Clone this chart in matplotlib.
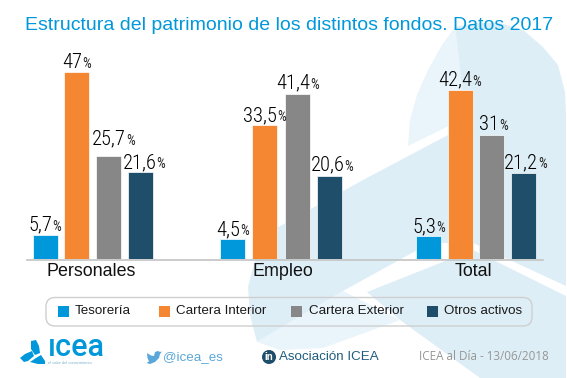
import matplotlib
matplotlib.use("Agg")
import matplotlib.pyplot as plt
from matplotlib.patches import Polygon, FancyBboxPatch, Circle, Rectangle

sans = ['Liberation Sans', 'DejaVu Sans']
cond = ['Roboto Condensed', 'Liberation Sans']
plt.rcParams['font.family'] = sans

groups = ['Personales', 'Empleo', 'Total']
series = ['Tesorería', 'Cartera Interior', 'Cartera Exterior', 'Otros activos']
colors = ['#0098DA', '#F58632', '#878787', '#1F4E6B']
tesoreria = [5.7, 4.5, 5.3]
interior = [47, 33.5, 42.4]
exterior = [25.7, 41.4, 31]
otros = [21.6, 20.6, 21.2]
labels_teso = ['5,7', '4,5', '5,3']
labels_int = ['47', '33,5', '42,4']
labels_ext = ['25,7', '41,4', '31']
labels_otros = ['21,6', '20,6', '21,2']
all_values = [tesoreria, interior, exterior, otros]
all_labels = [labels_teso, labels_int, labels_ext, labels_otros]
title = 'Estructura del patrimonio de los distintos fondos. Datos 2017'

W, H = 567, 378
fig = plt.figure(figsize=(W/100, H/100), dpi=100, facecolor='white')
bg = fig.add_axes([0, 0, 1, 1], zorder=0)
bg.set_xlim(0, W); bg.set_ylim(H, 0); bg.axis('off')

L1, L2 = '#E9F5FB', '#DEEEF6'
# background emblem
bg.add_patch(Polygon([(408,146),(410,120),(417,95),(428,70),(442,45),(455,27),(459,60),(463,95),(465,118)], fc=L1, ec='none'))
bg.add_patch(Polygon([(455,27),(475,23),(500,23),(523,30),(543,47),(558,65),(565,92),(566,115),(566,286),(473,243),(430,243),
                      (343,291),(257,342),(250,315),(248,287),(256,256),(273,230),(363,180),(448,135),(465,118),(463,95),(459,60)], fc=L2, ec='none'))
bg.add_patch(Polygon([(367,292),(473,250),(566,296),(566,378),(480,378),(400,320)], fc=L2, ec='none'))
bg.add_patch(Polygon([(257,342),(343,291),(400,320),(323,348),(280,350)], fc=L1, ec='none'))

scale = 3.95
floor = -0.45
ax = fig.add_axes([0, (H-259)/H, 1, 210/H], zorder=1)
ax.set_xlim(0, W); ax.set_ylim(floor, floor + 210/scale)
ax.axis('off'); ax.patch.set_alpha(0)
group_x = [45.0, 232.3, 428.3]
steps = [31.7, 32.5, 31.7]
bw = 25
# hand placement of labels, in pixels (dx, dy above the bar)
nudge = {'25,7': (5, 11), '21,6': (4, 4), '20,6': (2, 5), '21,2': (2, 5), '31': (2, 5), '41,4': (0, 5)}
renderer = fig.canvas.get_renderer()
for i, (vals, labs) in enumerate(zip(all_values, all_labels)):
    xs = [g + i*s for g, s in zip(group_x, steps)]
    ax.bar(xs, [v - floor for v in vals], bottom=floor, width=bw, color=colors[i], edgecolor='#FFFFFF', linewidth=0.5)
    for x, v, lab in zip(xs, vals, labs):
        dx, dy = nudge.get(lab, (0, 4))
        num = ax.annotate(lab, (x, v), xytext=(0, dy), textcoords='offset pixels', ha='left', va='baseline',
                          fontsize=14.8, family=cond, fontweight=300, color='#000000')
        pct = ax.annotate('%', (x, v), xytext=(0, dy), textcoords='offset pixels', ha='left', va='baseline',
                          fontsize=10, family=cond, fontweight=400, color='#222222')
        nw = num.get_window_extent(renderer).width
        pw = pct.get_window_extent(renderer).width
        left = dx - (nw + pw) / 2
        num.xyann = (left, dy)
        pct.xyann = (left + nw, dy)
bg.plot([27, 543], [259.5, 259.5], color='#C4C4C4', lw=1.2, zorder=5)

for g, cx in zip(groups, [91, 282.5, 473.5]):
    bg.text(cx, 271, g, ha='center', va='center', fontsize=12.9, color='#111111', zorder=6)

bg.text(25, 26, title, fontsize=14.02, color='#0098DA', va='center', ha='left', zorder=6)

bg.add_patch(FancyBboxPatch((46, 297.5), 486, 28.5, boxstyle='round,pad=0,rounding_size=9', fc='none', ec='#CFCFCF', lw=1, zorder=4))
for name, c, sx, tx in zip(series, colors, [58, 159, 291, 427], [75, 176, 309, 444]):
    bg.add_patch(Rectangle((sx, 306), 10.5, 10.5, fc=c, ec='none', zorder=6))
    bg.text(tx, 311, name, fontsize=9.6, va='center', ha='left', color='#1a1a1a', zorder=6)

# footer
bg.text(47.5, 348, 'ıcea', fontsize=22, family=['Roboto', 'DejaVu Sans'], fontweight=500, color='#0098DA', va='center', ha='left', zorder=6)
bg.add_patch(Polygon([(31,341),(36,340),(39,346),(40,353),(35,355),(31,349)], fc='#0098DA', ec='none', zorder=6))
bg.add_patch(Polygon([(20,358),(25,354),(32,351),(34,356),(28,361),(24,362)], fc='#0098DA', ec='none', zorder=6))
bg.add_patch(Polygon([(36,358),(41,355),(45,361),(45,364),(38,364),(30,362)], fc='#0098DA', ec='none', zorder=6))
bg.text(48, 363, 'el valor del conocimiento', fontsize=2.9, color='#7FB5D0', va='center', zorder=6)
bg.add_patch(Polygon([(147,353),(151,355.5),(154,356),(155,352),(158,351),(160,352),(162,351.5),(160,354),(159,358),(155,362),(150,364),(146.5,363),(149,361.5),(147.5,358)], fc='#5AA7DA', ec='none', zorder=6))
bg.text(162.5, 357.5, '@icea_es', fontsize=9.6, color='#5AA7DA', va='center', zorder=6)
bg.add_patch(Circle((269, 357), 7, fc='#1F4E6B', ec='none', zorder=6))
bg.text(269, 357.5, 'in', fontsize=7, fontweight='bold', color='white', ha='center', va='center', zorder=7)
bg.text(279, 357.5, 'Asociación ICEA', fontsize=9.6, color='#1F5C7D', va='center', zorder=6)
bg.text(419, 357, 'ICEA al Día - 13/06/2018', fontsize=8.4, family=['Open Sans','DejaVu Sans'], color='#969696', va='center', zorder=6)

fig.savefig('out.png', dpi=100)
